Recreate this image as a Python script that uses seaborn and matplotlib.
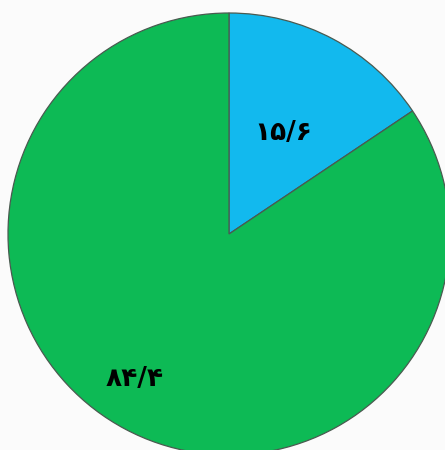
import matplotlib
matplotlib.use("Agg")
import matplotlib.pyplot as plt
import numpy as np
import seaborn as sns

sns.set_theme(style="white")
plt.rcParams['font.family'] = ['DejaVu Sans']

categories = ["A", "B"]
values = [15.6, 84.4]
labels = ["۱۵/۶", "۸۴/۴"]
colors = ["#12B9EE", "#0DBA55"]
label_dist = [0.52, 0.785]
label_angle_offset = [0.0, -5.0]  # degrees (counterclockwise)

fig = plt.figure(figsize=(4.45, 4.5), dpi=100)
fig.patch.set_facecolor("#FBFBFB")
cx, cy, r = 229, 234, 221
ax = fig.add_axes([(cx - r) / 445, (450 - cy - r) / 450, 2 * r / 445, 2 * r / 450])
ax.set_facecolor("none")

wedges, texts = ax.pie(values, labels=labels, colors=colors, startangle=90,
                       counterclock=False, labeldistance=1.0,
                       wedgeprops=dict(edgecolor="#4a5a50", linewidth=0.9),
                       textprops=dict(fontsize=19, fontweight="bold", color="black"))
for w, t, d, off in zip(wedges, texts, label_dist, label_angle_offset):
    mid = np.deg2rad((w.theta1 + w.theta2) / 2 + off)
    t.set_position((d * np.cos(mid), d * np.sin(mid)))
    t.set_ha("center")
    t.set_va("center")
ax.set_xlim(-1, 1)
ax.set_ylim(-1, 1)
ax.set_aspect("auto")
ax.axis("off")

fig.savefig("out.png", dpi=100, facecolor=fig.get_facecolor())
